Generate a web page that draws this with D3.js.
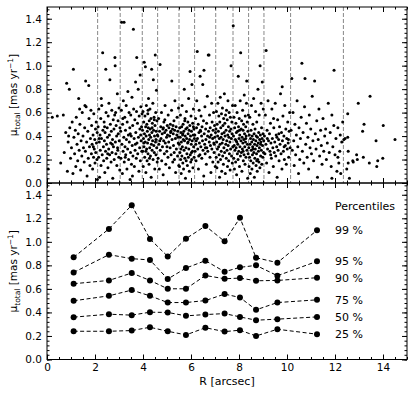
<!DOCTYPE html>
<html>
<head>
<meta charset="utf-8">
<script src="https://cdn.jsdelivr.net/npm/d3@7"></script>
<style>
  body { margin: 0; background: #fff; }
  text { font-family: "DejaVu Sans", sans-serif; fill: #000; }
</style>
</head>
<body>
<script>
// bin edges (dashed lines in top panel)
const binEdges = [2.11, 3.05, 3.97, 4.61, 5.50, 6.15, 7.03, 7.75, 8.40, 9.04, 10.15, 12.35];

// mean radius of each bin and the percentiles drawn in the bottom panel
const binR = [1.11, 2.58, 3.53, 4.29, 5.03, 5.79, 6.60, 7.40, 8.04, 8.71, 9.60, 11.25];
const p25 = [0.240, 0.240, 0.246, 0.274, 0.240, 0.209, 0.270, 0.237, 0.249, 0.200, 0.257, 0.215];
const p50 = [0.360, 0.385, 0.377, 0.402, 0.400, 0.371, 0.382, 0.390, 0.362, 0.334, 0.343, 0.362];
const p75 = [0.499, 0.541, 0.590, 0.541, 0.484, 0.484, 0.501, 0.556, 0.527, 0.422, 0.484, 0.507];
const p90 = [0.644, 0.672, 0.735, 0.672, 0.601, 0.601, 0.714, 0.686, 0.692, 0.669, 0.672, 0.695];
const p95 = [0.740, 0.891, 0.857, 0.846, 0.684, 0.777, 0.840, 0.746, 0.783, 0.800, 0.712, 0.834];
const p99 = [0.868, 1.110, 1.311, 1.025, 0.876, 1.027, 1.135, 1.004, 1.204, 0.865, 0.823, 1.098];
const pctNames = ["25 %", "50 %", "75 %", "90 %", "95 %", "99 %"];

const xTicks = [0, 2, 4, 6, 8, 10, 12, 14];
const yTicks = [0, 0.2, 0.4, 0.6, 0.8, 1.0, 1.2, 1.4];

// stars [R, mu], bin by bin
const bin1 = [[0.05,0.12],[0.22,0.56],[0.43,0.57],[0.57,0.17],[0.68,0.58],[0.72,0.26],[0.78,0.43],[0.82,0.85],[0.85,0.10],[0.88,0.35],[0.93,0.80],[0.95,0.47],[0.98,0.21],[1.02,0.30],[1.05,0.52],[1.08,0.08],[1.10,0.97],[1.12,0.39],[1.15,0.25],[1.18,0.45],[1.20,0.14],[1.22,0.56],[1.25,0.33],[1.28,0.19],[1.30,0.42],[1.32,0.72],[1.34,0.28],[1.37,0.50],[1.40,0.11],[1.42,0.36],[1.45,0.23],[1.47,0.60],[1.50,0.40],[1.52,0.30],[1.55,0.18],[1.57,0.47],[1.60,0.27],[1.61,0.87],[1.63,0.65],[1.65,0.35],[1.67,0.06],[1.70,0.44],[1.72,0.21],[1.74,0.83],[1.75,0.55],[1.77,0.31],[1.79,0.15],[1.81,0.38],[1.83,0.62],[1.85,0.25],[1.86,0.49],[1.88,0.33],[1.90,0.12],[1.92,0.41],[1.94,0.22],[1.95,0.59],[1.97,0.29],[1.99,0.37],[2.00,0.17],[2.02,0.46],[2.03,0.26],[2.05,0.52],[2.06,0.34],[2.08,0.20],[2.09,0.43],[2.10,0.03],[1.58,0.66],[1.36,0.63],[0.90,0.40],[1.93,0.31]];
const bin2 = [[2.13,0.48],[2.15,0.22],[2.16,0.63],[2.18,0.35],[2.19,0.05],[2.21,0.41],[2.22,0.28],[2.24,0.55],[2.25,0.15],[2.27,0.38],[2.28,0.66],[2.30,0.24],[2.32,1.11],[2.33,0.45],[2.35,0.31],[2.36,0.19],[2.38,0.52],[2.39,0.36],[2.41,0.09],[2.42,0.43],[2.44,0.27],[2.45,0.97],[2.46,0.60],[2.48,0.33],[2.49,0.21],[2.51,0.47],[2.52,0.39],[2.54,0.13],[2.55,0.57],[2.57,0.29],[2.58,0.68],[2.60,0.41],[2.61,0.24],[2.62,0.88],[2.64,0.50],[2.65,0.34],[2.67,0.18],[2.68,0.44],[2.70,0.62],[2.71,0.26],[2.73,0.37],[2.74,0.04],[2.76,0.54],[2.77,0.31],[2.79,0.46],[2.80,0.20],[2.82,0.58],[2.83,1.07],[2.84,1.00],[2.85,0.35],[2.87,0.25],[2.88,0.49],[2.90,0.40],[2.91,0.15],[2.93,0.76],[2.94,0.30],[2.96,0.53],[2.97,0.42],[2.99,0.22],[3.00,0.64],[3.01,0.36],[3.03,0.11],[3.04,0.47],[2.26,0.72],[2.53,0.25],[2.72,0.33],[2.95,0.28],[2.40,0.48],[2.86,0.60],[2.17,0.38]];
const bin3 = [[3.07,0.44],[3.08,0.21],[3.10,0.62],[3.11,1.37],[3.12,0.33],[3.14,0.08],[3.15,0.50],[3.17,0.27],[3.18,0.70],[3.20,0.39],[3.21,1.37],[3.22,0.18],[3.24,0.56],[3.25,0.31],[3.27,0.45],[3.28,0.24],[3.30,0.66],[3.31,0.37],[3.33,0.12],[3.34,0.52],[3.36,0.29],[3.37,0.78],[3.39,0.41],[3.40,0.20],[3.42,0.60],[3.43,0.35],[3.45,0.47],[3.46,0.03],[3.48,0.26],[3.49,0.58],[3.51,0.40],[3.52,0.16],[3.54,0.73],[3.55,0.32],[3.57,0.49],[3.58,0.23],[3.60,1.31],[3.61,0.63],[3.63,0.38],[3.64,0.14],[3.66,0.54],[3.67,0.28],[3.69,0.86],[3.70,0.43],[3.72,0.21],[3.73,0.61],[3.74,1.07],[3.75,0.34],[3.77,0.51],[3.78,0.25],[3.80,0.80],[3.81,0.39],[3.83,0.10],[3.84,0.57],[3.86,0.30],[3.87,0.46],[3.88,0.92],[3.89,0.19],[3.91,0.65],[3.92,0.36],[3.94,0.48],[3.95,0.27],[3.96,0.59],[3.26,0.22],[3.47,0.42],[3.68,0.33],[3.90,0.41],[3.16,0.55],[3.56,0.06]];
const bin4 = [[3.98,0.45],[3.99,0.27],[4.00,0.61],[4.01,0.14],[4.02,0.38],[4.03,0.52],[4.04,0.31],[4.05,1.03],[4.06,0.42],[4.07,0.22],[4.08,0.57],[4.09,0.35],[4.10,0.99],[4.11,0.48],[4.12,0.09],[4.13,0.40],[4.14,0.66],[4.15,0.29],[4.16,0.50],[4.17,0.19],[4.18,0.44],[4.19,0.34],[4.20,0.59],[4.21,0.25],[4.22,0.47],[4.23,0.72],[4.24,0.37],[4.25,0.16],[4.26,0.53],[4.27,0.41],[4.28,0.30],[4.29,0.63],[4.30,0.46],[4.31,0.23],[4.32,0.39],[4.33,0.55],[4.34,0.05],[4.35,0.33],[4.36,0.97],[4.37,0.43],[4.38,0.28],[4.39,0.51],[4.40,0.36],[4.41,0.68],[4.42,0.20],[4.43,0.88],[4.44,0.45],[4.45,0.32],[4.46,0.56],[4.47,0.26],[4.48,0.40],[4.49,0.12],[4.50,0.49],[4.51,1.09],[4.52,0.35],[4.53,0.60],[4.54,0.24],[4.55,0.44],[4.56,0.79],[4.57,0.30],[4.58,0.53],[4.59,0.18],[4.60,0.41],[4.03,0.34],[4.21,0.62],[4.38,0.47],[4.54,0.37],[4.12,0.27],[4.47,0.54],[4.27,0.21]];
const bin5 = [[4.62,0.40],[4.63,0.21],[4.65,0.55],[4.66,0.33],[4.68,0.12],[4.69,0.44],[4.71,1.01],[4.72,0.28],[4.74,0.48],[4.75,0.38],[4.77,0.60],[4.78,0.19],[4.80,0.42],[4.81,0.31],[4.83,0.46],[4.84,0.07],[4.86,0.36],[4.87,0.52],[4.89,0.25],[4.90,0.43],[4.92,0.66],[4.93,0.34],[4.95,0.16],[4.96,0.45],[4.98,0.39],[4.99,0.27],[5.01,0.49],[5.02,0.41],[5.04,0.22],[5.05,0.58],[5.07,0.35],[5.08,0.47],[5.10,0.13],[5.11,0.40],[5.13,0.30],[5.14,0.50],[5.16,0.44],[5.17,0.24],[5.19,0.62],[5.20,0.87],[5.21,0.37],[5.23,0.46],[5.24,0.18],[5.26,0.42],[5.27,0.32],[5.29,0.53],[5.30,0.26],[5.32,0.45],[5.33,0.70],[5.35,0.38],[5.36,0.09],[5.38,0.48],[5.39,0.29],[5.41,0.41],[5.42,0.56],[5.44,0.23],[5.45,0.44],[5.47,0.34],[5.48,0.64],[5.49,0.15],[4.70,0.36],[4.85,0.47],[5.00,0.31],[5.15,0.43],[5.31,0.20],[5.46,0.39],[4.91,0.54],[5.25,0.49]];
const bin6 = [[5.51,0.33],[5.52,0.14],[5.53,0.47],[5.54,0.26],[5.55,0.39],[5.56,0.58],[5.57,0.20],[5.58,0.43],[5.59,0.08],[5.60,0.35],[5.61,0.48],[5.62,0.23],[5.63,0.66],[5.64,0.31],[5.65,0.41],[5.66,0.17],[5.67,0.50],[5.68,0.37],[5.69,0.12],[5.70,0.44],[5.71,0.28],[5.72,0.80],[5.73,0.36],[5.74,0.21],[5.75,0.55],[5.76,0.40],[5.77,0.04],[5.78,0.46],[5.79,0.30],[5.80,0.19],[5.81,0.61],[5.82,0.38],[5.83,0.25],[5.84,0.47],[5.85,0.15],[5.86,0.34],[5.87,0.52],[5.88,0.42],[5.89,0.22],[5.90,0.72],[5.91,0.29],[5.92,0.45],[5.93,0.10],[5.94,0.37],[5.95,0.49],[5.96,0.95],[5.97,0.24],[5.98,0.40],[5.99,0.18],[6.00,0.57],[6.01,0.33],[6.02,0.44],[6.03,0.20],[6.04,0.84],[6.05,0.36],[6.06,0.27],[6.07,0.51],[6.08,0.13],[6.09,0.41],[6.10,0.63],[6.11,0.31],[6.12,0.46],[6.13,0.22],[6.14,0.38],[5.58,0.29],[5.74,0.53],[5.88,0.35],[6.02,0.26],[5.66,0.42],[6.10,0.48]];
const bin7 = [[6.16,0.41],[6.17,0.27],[6.19,0.55],[6.20,0.33],[6.21,0.19],[6.23,0.47],[6.24,0.70],[6.26,1.12],[6.27,0.38],[6.28,0.29],[6.30,0.50],[6.31,0.12],[6.33,0.43],[6.34,0.62],[6.35,0.34],[6.37,0.24],[6.38,0.91],[6.39,0.45],[6.41,0.31],[6.42,0.57],[6.44,0.40],[6.45,0.21],[6.46,0.48],[6.48,0.36],[6.49,0.84],[6.50,0.28],[6.52,0.53],[6.53,0.06],[6.54,0.96],[6.55,0.42],[6.57,0.33],[6.58,0.65],[6.59,0.25],[6.61,0.46],[6.62,0.37],[6.64,0.16],[6.65,0.51],[6.66,0.30],[6.68,0.74],[6.69,0.40],[6.70,0.27],[6.72,1.09],[6.73,0.44],[6.75,1.09],[6.76,0.35],[6.77,0.58],[6.79,0.22],[6.80,0.47],[6.81,0.32],[6.83,0.09],[6.84,0.41],[6.86,0.68],[6.87,0.29],[6.88,0.52],[6.90,0.38],[6.91,0.18],[6.92,0.45],[6.94,0.60],[6.95,0.34],[6.96,0.26],[6.98,0.49],[6.99,0.39],[7.01,0.14],[7.02,0.43],[6.22,0.36],[6.40,0.44],[6.60,0.30],[6.78,0.39],[6.97,0.33],[6.32,0.23]];
const bin8 = [[7.04,0.46],[7.05,0.22],[7.06,0.61],[7.07,0.35],[7.08,0.13],[7.09,0.50],[7.10,0.29],[7.11,0.40],[7.12,0.68],[7.13,0.18],[7.14,0.44],[7.15,0.31],[7.16,0.57],[7.17,0.24],[7.18,0.38],[7.19,0.05],[7.20,0.52],[7.21,0.33],[7.22,0.73],[7.23,0.20],[7.24,0.47],[7.25,0.39],[7.26,0.27],[7.27,0.59],[7.28,0.10],[7.29,0.42],[7.30,0.34],[7.31,0.64],[7.32,0.23],[7.33,0.49],[7.34,0.37],[7.35,0.16],[7.36,0.55],[7.37,0.30],[7.38,0.43],[7.39,0.76],[7.40,0.26],[7.41,0.51],[7.42,0.40],[7.43,0.08],[7.44,0.58],[7.45,0.33],[7.46,0.45],[7.47,0.21],[7.48,0.62],[7.49,0.36],[7.50,0.28],[7.51,0.54],[7.52,0.14],[7.53,0.41],[7.54,0.70],[7.55,0.32],[7.56,0.48],[7.57,0.19],[7.58,0.39],[7.59,0.60],[7.60,0.25],[7.61,0.44],[7.62,0.35],[7.63,0.11],[7.64,0.56],[7.65,0.29],[7.66,0.46],[7.67,1.00],[7.68,0.38],[7.69,0.23],[7.70,0.52],[7.71,0.42],[7.72,0.17],[7.73,0.66],[7.74,0.31]];
const bin9 = [[7.76,1.34],[7.77,0.40],[7.78,0.21],[7.79,0.56],[7.80,0.32],[7.81,0.12],[7.82,0.47],[7.83,0.28],[7.84,0.66],[7.85,0.37],[7.86,0.18],[7.87,0.51],[7.88,0.30],[7.89,0.43],[7.90,0.07],[7.91,0.35],[7.92,0.60],[7.93,0.25],[7.94,0.44],[7.95,0.33],[7.96,0.20],[7.97,0.91],[7.98,0.48],[7.99,0.27],[8.00,0.38],[8.01,0.55],[8.02,0.14],[8.03,0.41],[8.04,0.31],[8.05,0.70],[8.06,0.23],[8.07,1.11],[8.08,0.36],[8.09,0.46],[8.10,0.26],[8.11,0.53],[8.12,0.10],[8.13,0.39],[8.14,0.29],[8.15,0.62],[8.16,0.34],[8.17,0.45],[8.18,0.19],[8.19,0.50],[8.20,0.37],[8.21,0.24],[8.22,0.75],[8.23,0.42],[8.24,0.31],[8.25,0.16],[8.26,0.57],[8.27,0.35],[8.28,0.48],[8.29,0.22],[8.30,0.40],[8.31,0.68],[8.32,0.87],[8.33,0.28],[8.34,0.52],[8.35,0.33],[8.36,0.04],[8.37,0.44],[8.38,0.25],[8.39,0.58],[7.88,0.36],[8.02,0.45],[8.17,0.27],[8.28,0.38]];
const bin10 = [[8.41,0.30],[8.42,0.14],[8.43,0.41],[8.44,0.22],[8.45,0.56],[8.46,0.33],[8.47,0.08],[8.48,0.38],[8.49,0.19],[8.50,0.45],[8.51,0.28],[8.52,0.66],[8.53,0.35],[8.54,0.12],[8.55,0.40],[8.56,0.24],[8.57,0.31],[8.58,0.50],[8.59,0.17],[8.60,0.37],[8.61,0.72],[8.62,0.26],[8.63,0.42],[8.64,0.05],[8.65,0.33],[8.66,0.21],[8.67,0.46],[8.68,0.29],[8.69,0.61],[8.70,0.36],[8.71,0.15],[8.72,0.40],[8.73,0.25],[8.74,0.52],[8.75,0.32],[8.76,0.10],[8.77,0.39],[8.78,0.20],[8.79,0.80],[8.80,0.34],[8.81,0.27],[8.82,0.43],[8.83,0.18],[8.84,0.58],[8.85,0.30],[8.86,0.37],[8.87,0.13],[8.88,1.00],[8.89,0.41],[8.90,0.23],[8.91,0.35],[8.92,0.68],[8.93,0.28],[8.94,0.47],[8.95,0.16],[8.96,0.38],[8.97,0.86],[8.98,0.32],[8.99,0.22],[9.00,0.42],[9.01,0.63],[9.02,0.26],[9.03,0.36],[8.58,0.29],[8.74,0.19],[8.90,0.33]];
const bin11 = [[9.06,0.40],[9.08,0.25],[9.10,0.58],[9.12,0.33],[9.13,1.13],[9.15,0.17],[9.17,0.45],[9.19,0.29],[9.21,0.70],[9.23,0.36],[9.25,0.09],[9.27,0.42],[9.29,0.27],[9.31,0.51],[9.33,0.34],[9.35,0.21],[9.37,0.63],[9.39,0.38],[9.41,0.30],[9.43,0.14],[9.45,0.47],[9.47,0.26],[9.49,0.35],[9.51,0.68],[9.53,0.23],[9.55,0.41],[9.57,0.31],[9.59,0.05],[9.61,0.54],[9.63,0.28],[9.65,0.37],[9.67,0.19],[9.69,0.48],[9.71,0.33],[9.73,0.76],[9.75,0.25],[9.77,0.43],[9.79,0.12],[9.81,0.36],[9.83,0.57],[9.85,0.27],[9.87,0.40],[9.89,0.20],[9.91,0.66],[9.93,0.32],[9.95,0.46],[9.97,0.16],[9.99,0.38],[10.01,0.29],[10.03,0.52],[10.05,0.34],[10.07,0.22],[10.09,0.44],[10.11,0.60],[10.13,0.30],[9.18,0.38],[9.44,0.55],[9.66,0.42],[9.88,0.31],[10.06,0.37],[9.32,0.24],[9.58,0.39],[9.80,0.82]];
const bin12 = [[10.17,0.45],[10.20,0.89],[10.22,0.28],[10.25,0.60],[10.28,0.36],[10.30,0.15],[10.33,0.50],[10.36,0.24],[10.39,0.41],[10.42,0.70],[10.45,0.31],[10.48,0.08],[10.50,0.47],[10.53,0.20],[10.56,0.38],[10.59,0.56],[10.62,1.02],[10.64,0.27],[10.67,0.43],[10.70,0.17],[10.73,0.65],[10.75,0.89],[10.78,0.33],[10.81,0.51],[10.84,0.22],[10.87,0.39],[10.90,0.12],[10.93,0.58],[10.96,0.30],[10.99,0.46],[11.02,0.25],[11.05,0.74],[11.08,0.36],[11.11,0.19],[11.15,0.87],[11.18,0.42],[11.21,0.29],[11.24,0.53],[11.27,0.05],[11.30,0.37],[11.33,0.63],[11.36,0.23],[11.40,0.45],[11.43,0.32],[11.46,0.16],[11.50,0.55],[11.53,0.27],[11.57,0.40],[11.61,0.46],[11.64,0.20],[11.68,0.34],[11.72,0.68],[11.76,0.26],[11.80,0.43],[11.84,0.14],[11.87,0.58],[11.87,0.04],[11.91,0.31],[11.95,0.49],[11.96,0.96],[12.00,0.24],[12.04,0.38],[12.08,0.10],[12.12,0.47],[12.12,0.22],[12.16,0.17],[12.20,0.27],[12.22,0.41],[12.24,0.08],[12.28,0.35],[12.32,0.52]];
const outer = [[12.37,0.37],[12.42,0.38],[12.49,0.12],[12.53,0.59],[12.53,0.39],[12.55,0.17],[12.55,0.27],[12.60,0.04],[12.76,0.18],[12.74,0.19],[12.90,0.24],[12.93,0.20],[12.97,0.68],[13.15,0.44],[13.18,0.22],[13.21,0.50],[13.43,0.17],[13.46,0.74],[13.71,0.36],[13.74,0.14],[13.78,0.19],[13.99,0.21],[14.01,0.49],[14.50,0.37]];

const stars = [].concat(bin1, bin2, bin3, bin4, bin5, bin6, bin7, bin8, bin9, bin10, bin11, bin12, outer);

const W = 415, H = 397;
const svg = d3.select("body").append("svg")
    .attr("width", W)
    .attr("height", H);

const x = d3.scaleLinear([0, 15], [47, 407]);
const yTop = d3.scaleLinear([0, 1.5], [183, 7]);
const yBot = d3.scaleLinear([0, 1.5], [359.5, 183]);

const xMinor = d3.range(0, 15.01, 0.5);
const yMinor = d3.range(0, 1.501, 0.04);

// inward ticks on all four sides, like the matplotlib style of the original
function frame(y, showX) {
    const g = svg.append("g");
    const [y0, y1] = y.range();
    const add = (axis, tr) => {
        const a = g.append("g").attr("transform", tr).call(axis);
        a.select(".domain").remove();
        a.selectAll("line").attr("stroke", "#000").attr("stroke-width", 1);
        return a;
    };
    // minor
    add(d3.axisLeft(y).tickValues(yMinor).tickSize(-2.5).tickFormat(""), `translate(${x(0)},0)`);
    add(d3.axisRight(y).tickValues(yMinor).tickSize(-2.5).tickFormat(""), `translate(${x(15)},0)`);
    add(d3.axisBottom(x).tickValues(xMinor).tickSize(-2.5).tickFormat(""), `translate(0,${y0})`);
    add(d3.axisTop(x).tickValues(xMinor).tickSize(-2.5).tickFormat(""), `translate(0,${y1})`);
    // major
    const left = add(d3.axisLeft(y).tickValues(yTicks).tickSize(-5).tickPadding(5).tickFormat(d3.format(".1f")), `translate(${x(0)},0)`);
    left.selectAll("text").style("font-size", "10.5px").style("font-family", "DejaVu Sans");
    add(d3.axisRight(y).tickValues(yTicks).tickSize(-5).tickFormat(""), `translate(${x(15)},0)`);
    const bot = add(d3.axisBottom(x).tickValues(xTicks).tickSize(-5).tickPadding(4)
        .tickFormat(showX ? d3.format("d") : ""), `translate(0,${y0})`);
    bot.selectAll("text").style("font-size", "10.5px").style("font-family", "DejaVu Sans");
    add(d3.axisTop(x).tickValues(xTicks).tickSize(-5).tickFormat(""), `translate(0,${y1})`);

    g.append("rect")
        .attr("x", x(0)).attr("y", y1)
        .attr("width", x(15) - x(0)).attr("height", y0 - y1)
        .attr("fill", "none").attr("stroke", "#000").attr("stroke-width", 1);

    // y label: mu_total [mas yr^-1]
    const lab = g.append("text")
        .attr("transform", `translate(17,${(y0 + y1) / 2}) rotate(-90)`)
        .attr("text-anchor", "middle")
        .style("font-size", "10.5px");
    lab.append("tspan").text("\u03bc");
    lab.append("tspan").attr("dy", 2.5).style("font-size", "7.5px").text("total");
    lab.append("tspan").attr("dy", -2.5).text(" [mas yr");
    lab.append("tspan").attr("dy", -4).style("font-size", "7.5px").text("\u22121");
    lab.append("tspan").attr("dy", 4).text("]");
}

// ---- top panel: scatter ----
svg.append("g").selectAll("line")
    .data(binEdges)
    .join("line")
    .attr("x1", d => x(d)).attr("x2", d => x(d))
    .attr("y1", yTop(1.5)).attr("y2", yTop(0))
    .attr("stroke", "#888")
    .attr("stroke-width", 1)
    .attr("stroke-dasharray", "4,2");

svg.append("g").selectAll("circle")
    .data(stars)
    .join("circle")
    .attr("cx", d => x(d[0]))
    .attr("cy", d => yTop(d[1]))
    .attr("r", 1.5)
    .attr("fill", "#000");

frame(yTop, false);

// ---- bottom panel: percentiles ----
const series = [p25, p50, p75, p90, p95, p99];
const line = d3.line()
    .x((d, i) => x(binR[i]))
    .y(d => yBot(d));

const pg = svg.append("g");
series.forEach((s, k) => {
    pg.append("path")
        .datum(s)
        .attr("d", line)
        .attr("fill", "none")
        .attr("stroke", "#000")
        .attr("stroke-width", 1)
        .attr("stroke-dasharray", "4,2.5");
    pg.append("g").selectAll("circle")
        .data(s)
        .join("circle")
        .attr("cx", (d, i) => x(binR[i]))
        .attr("cy", d => yBot(d))
        .attr("r", 3)
        .attr("fill", "#000");
    pg.append("text")
        .attr("x", x(12))
        .attr("y", yBot(s[s.length - 1]))
        .attr("dy", "0.35em")
        .style("font-size", "11px")
        .text(pctNames[k]);
});

pg.append("text")
    .attr("x", x(12))
    .attr("y", yBot(1.30))
    .attr("dy", "0.35em")
    .style("font-size", "11px")
    .text("Percentiles");

frame(yBot, true);

svg.append("text")
    .attr("x", (x(0) + x(15)) / 2)
    .attr("y", 385)
    .attr("text-anchor", "middle")
    .style("font-size", "11px")
    .text("R [arcsec]");
</script>
</body>
</html>
